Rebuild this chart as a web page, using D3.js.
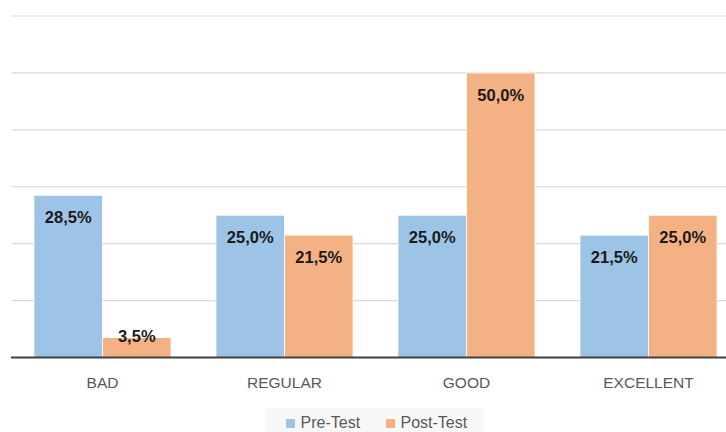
<!DOCTYPE html>
<html>
<head>
<meta charset="utf-8">
<script src="https://cdn.jsdelivr.net/npm/d3@7"></script>
<style>
  body { margin: 0; background: #fff; overflow: hidden; }
  text { font-family: "Liberation Sans", Arial, sans-serif; }
</style>
</head>
<body>
<svg class="chart" width="726" height="432"></svg>
<script>
let categories = ["BAD", "REGULAR", "GOOD", "EXCELLENT"];
let seriesNames = ["Pre-Test", "Post-Test"];
let preTest = [28.5, 25.0, 25.0, 21.5];
let postTest = [3.5, 21.5, 50.0, 25.0];
let yTicks = [0, 10, 20, 30, 40, 50, 60];
let colors = ["#9dc3e6", "#f4b183"];

let width = 726, height = 432;
let svg = d3.select(".chart");

// 右边被裁掉一点, 所以范围超出画布
let x = d3.scaleBand().domain(categories).range([11.5, 739.5]).paddingInner(0.247).paddingOuter(0.1235);
let xSub = d3.scaleBand().domain(seriesNames).range([0, x.bandwidth()]);
let y = d3.scaleLinear().domain([0, 60]).range([357.5, 16]);

// 网格线
svg.append("g")
    .selectAll("line")
    .data(yTicks.slice(1))
    .enter()
    .append("line")
    .attr("x1", 11.5)
    .attr("x2", width)
    .attr("y1", d => y(d))
    .attr("y2", d => y(d))
    .attr("stroke", "#d9d9d9")
    .attr("stroke-width", 1.2);

let rows = categories.map((c, i) => ({cat: c, values: [preTest[i], postTest[i]]}));

let groups = svg.selectAll(".group")
    .data(rows)
    .enter()
    .append("g")
    .attr("class", "group")
    .attr("transform", d => `translate(${x(d.cat)},0)`);

groups.selectAll("rect")
    .data(d => d.values.map((v, j) => ({name: seriesNames[j], v: v, j: j})))
    .enter()
    .append("rect")
    .attr("x", d => xSub(d.name))
    .attr("y", d => y(d.v))
    .attr("width", xSub.bandwidth())
    .attr("height", d => y(0) - y(d.v))
    .attr("fill", d => colors[d.j])
    .attr("stroke", "#ffffff")
    .attr("stroke-width", 0.8);

// 数值标签 (短柱子时往上挪)
groups.selectAll(".bar-label")
    .data(d => d.values.map((v, j) => ({name: seriesNames[j], v: v})))
    .enter()
    .append("text")
    .attr("class", "bar-label")
    .text(d => d.v.toFixed(1).replace(".", ",") + "%")
    .attr("x", d => xSub(d.name) + xSub.bandwidth() / 2)
    .attr("y", d => Math.min(y(d.v) + 22, y(0) - 21))
    .attr("dy", "0.35em")
    .attr("text-anchor", "middle")
    .attr("font-size", "16.5px")
    .attr("font-weight", "bold")
    .attr("fill", "#1a1a1a");

// 底部轴线
svg.append("line")
    .attr("x1", 11)
    .attr("x2", width)
    .attr("y1", y(0))
    .attr("y2", y(0))
    .attr("stroke", "#404040")
    .attr("stroke-width", 2);

let xAxis = svg.append("g")
    .attr("transform", `translate(0,${y(0)})`)
    .call(d3.axisBottom(x).tickSize(0).tickPadding(19));
xAxis.select(".domain").remove();
xAxis.selectAll("text")
    .attr("font-size", "15.5px")
    .attr("fill", "#595959")
    .attr("font-family", "\"Liberation Sans\", Arial, sans-serif");

// 图例
let legend = svg.append("g");
legend.append("rect")
    .attr("x", 266)
    .attr("y", 408)
    .attr("width", 218)
    .attr("height", 30)
    .attr("fill", "#f8f8f8");
let legendX = [286, 386];
seriesNames.forEach((name, i) => {
    legend.append("rect")
        .attr("x", legendX[i])
        .attr("y", 419)
        .attr("width", 9)
        .attr("height", 9)
        .attr("fill", colors[i]);
    legend.append("text")
        .text(name)
        .attr("x", legendX[i] + 14.5)
        .attr("y", 428)
        .attr("font-size", "16px")
        .attr("fill", "#595959");
});
</script>
</body>
</html>
